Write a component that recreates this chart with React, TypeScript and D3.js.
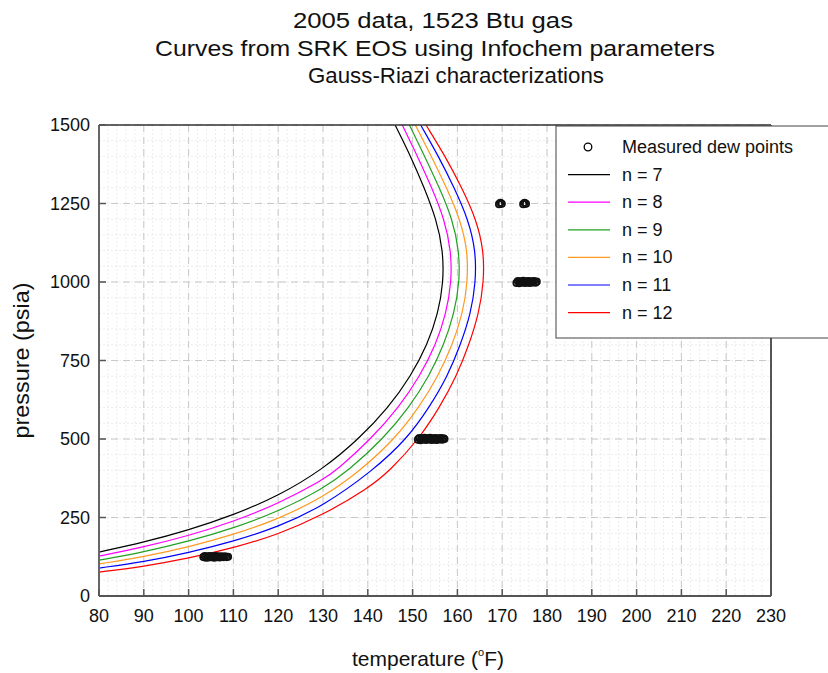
import React from "react";
import * as d3 from "d3";

const TITLE_LINES = [
  "2005 data, 1523 Btu gas",
  "Curves from SRK EOS using Infochem parameters",
  "Gauss-Riazi characterizations",
];
const X_TICKS = [80, 90, 100, 110, 120, 130, 140, 150, 160, 170, 180, 190, 200, 210, 220, 230];
const Y_TICKS = [0, 250, 500, 750, 1000, 1250, 1500];

const SERIES_NAMES = ["n = 7", "n = 8", "n = 9", "n = 10", "n = 11", "n = 12"];
const SERIES_COLORS = ["#000000", "#ff00ff", "#22a022", "#ff9a20", "#0000ff", "#ff0000"];

// [temperature °F, pressure psia]
const curveN7: [number, number][] = [[80,140],[90,171],[100,210],[110,258],[120,318],[130,404],[138.0,500],[144.6,600],[149.6,700],[153.3,800],[155.7,900],[156.9,1000],[156.8,1100],[155.3,1200],[152.6,1300],[149.6,1400],[146.1,1500]];
const curveN8: [number, number][] = [[80,127],[90,156],[100,192],[110,237],[120,294],[130,370],[133.0,400],[140.7,500],[146.9,600],[151.6,700],[155.2,800],[157.5,900],[158.7,1000],[158.6,1100],[157.1,1200],[154.3,1300],[151.1,1400],[147.7,1500]];
const curveN9: [number, number][] = [[80,114],[90,140],[100,174],[110,216],[120,269],[130,342],[135.7,400],[143.4,500],[149.2,600],[153.7,700],[157.0,800],[159.3,900],[160.5,1000],[160.4,1100],[158.9,1200],[156.0,1300],[152.7,1400],[149.3,1500]];
const curveN10: [number, number][] = [[80,102],[90,125],[100,156],[110,195],[120,245],[130,314],[138.4,400],[146.0,500],[151.4,600],[155.7,700],[158.9,800],[161.2,900],[162.3,1000],[162.3,1100],[160.6,1200],[157.6,1300],[154.2,1400],[150.6,1500]];
const curveN11: [number, number][] = [[80,89],[90,109],[100,138],[110,174],[120,220],[130,286],[141.2,400],[148.7,500],[153.7,600],[157.8,700],[160.7,800],[163.0,900],[164.1,1000],[164.1,1100],[162.4,1200],[159.3,1300],[155.8,1400],[151.8,1500]];
const curveN12: [number, number][] = [[80,76],[90,94],[100,120],[110,153],[120,196],[130,258],[140,342],[145.0,400],[151.4,500],[156.0,600],[159.8,700],[162.6,800],[164.8,900],[165.9,1000],[165.9,1100],[164.2,1200],[161.0,1300],[157.3,1400],[153.0,1500]];
const CURVES = [curveN7, curveN8, curveN9, curveN10, curveN11, curveN12];

// measured dew points [temperature °F, pressure psia]
const dewPoints125: [number, number][] = [[103.3,124],[103.6,127],[103.9,122],[104.2,126],[104.5,123],[104.8,127],[105.1,124],[105.4,126],[105.7,122],[106.0,127],[106.3,124],[106.6,126],[106.9,123],[107.3,126],[107.7,124],[108.1,126],[108.5,124],[108.8,125]];
const dewPoints500: [number, number][] = [[151.2,498],[151.5,503],[151.8,496],[152.1,502],[152.4,499],[152.7,504],[153.0,497],[153.3,502],[153.6,499],[153.9,504],[154.2,497],[154.5,502],[154.8,498],[155.1,503],[155.4,497],[155.7,502],[156.0,499],[156.3,503],[156.6,498],[156.9,502],[157.1,500]];
const dewPoints1000: [number, number][] = [[173.2,997],[173.5,1003],[173.8,996],[174.1,1002],[174.4,999],[174.7,1004],[175.0,997],[175.3,1002],[175.6,998],[175.9,1003],[176.2,997],[176.5,1002],[176.8,999],[177.1,1003],[177.4,998],[177.7,1001]];
const dewPoints1250: [number, number][] = [[169.3,1248],[169.6,1252],[169.9,1249],[174.7,1248],[175.0,1252],[175.3,1249]];
const DEW_POINTS = [...dewPoints125, ...dewPoints500, ...dewPoints1000, ...dewPoints1250];

const W = 828, H = 673;
const M = { left: 99, right: 771, top: 125, bottom: 596 };
const FONT = "'Liberation Sans', Arial, sans-serif";

export default function App() {
  const x = d3.scaleLinear().domain([80, 230]).range([M.left, M.right]);
  const y = d3.scaleLinear().domain([0, 1500]).range([M.bottom, M.top]);
  const minorX = x.ticks(75);
  const minorY = y.ticks(30);
  const line = d3
    .line<[number, number]>()
    .x((d) => x(d[0]))
    .y((d) => y(d[1]))
    .curve(d3.curveBasis);

  const legX = 556, legY = 126, legRow = 27.6, legFirst = 147;

  return (
    <svg width={W} height={H} style={{ position: "absolute", left: 0, top: 0, background: "#fff" }} fontFamily={FONT}>
      <defs>
        <clipPath id="plot">
          <rect x={M.left} y={M.top} width={M.right - M.left} height={M.bottom - M.top} />
        </clipPath>
      </defs>
      <rect x={0} y={0} width={W} height={H} fill="#fff" />
      {/* title */}
      <g fontSize={22} fill="#111" textAnchor="middle">
        <text x={433} y={28} textLength={280} lengthAdjust="spacingAndGlyphs">{TITLE_LINES[0]}</text>
        <text x={435} y={56} textLength={560} lengthAdjust="spacingAndGlyphs">{TITLE_LINES[1]}</text>
        <text x={456} y={83} textLength={296} lengthAdjust="spacingAndGlyphs">{TITLE_LINES[2]}</text>
      </g>

      {/* minor grid */}
      <g stroke="#ececec" strokeWidth={1} strokeDasharray="2,2">
        {minorX.map((t) => (
          <line key={"mx" + t} x1={x(t)} x2={x(t)} y1={M.top} y2={M.bottom} />
        ))}
        {minorY.map((t) => (
          <line key={"my" + t} y1={y(t)} y2={y(t)} x1={M.left} x2={M.right} />
        ))}
      </g>
      {/* major grid */}
      <g stroke="#c8c8c8" strokeWidth={1} strokeDasharray="7,5">
        {X_TICKS.map((t) => (
          <line key={"gx" + t} x1={x(t)} x2={x(t)} y1={M.top} y2={M.bottom} />
        ))}
        {Y_TICKS.map((t) => (
          <line key={"gy" + t} y1={y(t)} y2={y(t)} x1={M.left} x2={M.right} />
        ))}
      </g>

      {/* curves */}
      <g clipPath="url(#plot)" fill="none">
        {CURVES.map((c, i) => (
          <path key={i} d={line(c) || ""} stroke={SERIES_COLORS[i]} strokeWidth={1.2} />
        ))}
      </g>
      {/* measured points */}
      <g fill="none" stroke="#111" strokeWidth={1.8}>
        {DEW_POINTS.map((d, i) => (
          <circle key={i} cx={x(d[0])} cy={y(d[1])} r={3.2} />
        ))}
      </g>

      {/* frame */}
      <line x1={M.left} x2={M.right} y1={M.top} y2={M.top} stroke="#333" strokeWidth={1.5} />
      <line x1={M.right} x2={M.right} y1={M.top} y2={M.bottom} stroke="#555" strokeWidth={2} />
      <line x1={M.left} x2={M.left} y1={M.top} y2={M.bottom} stroke="#666" strokeWidth={2} />
      <line x1={M.left} x2={M.right} y1={M.bottom} y2={M.bottom} stroke="#555" strokeWidth={2} />

      {/* ticks */}
      <g stroke="#555" strokeWidth={1.5}>
        {X_TICKS.map((t) => (
          <line key={"tx" + t} x1={x(t)} x2={x(t)} y1={M.bottom} y2={M.bottom - 7} />
        ))}
        {Y_TICKS.map((t) => (
          <line key={"ty" + t} y1={y(t)} y2={y(t)} x1={M.left} x2={M.left + 7} />
        ))}
      </g>
      <g fontSize={18} fill="#111">
        {X_TICKS.map((t) => (
          <text key={"lx" + t} x={x(t)} y={622} textAnchor="middle">{t}</text>
        ))}
        {Y_TICKS.map((t) => (
          <text key={"ly" + t} x={90} y={y(t) + 6} textAnchor="end">{t}</text>
        ))}
      </g>

      {/* axis labels */}
      <text x={352} y={666} fontSize={21} fill="#111">
        temperature (<tspan fontSize={11} dy={-10}>o</tspan><tspan dy={10}>F)</tspan>
      </text>
      <text transform={`translate(29,${(M.top + M.bottom) / 2}) rotate(-90)`} fontSize={22} textAnchor="middle" fill="#111" textLength={156} lengthAdjust="spacingAndGlyphs">
        pressure (psia)
      </text>

      {/* legend */}
      <rect x={legX} y={legY} width={W - legX + 10} height={338 - legY} fill="#fff" stroke="#444" strokeWidth={1} />
      <circle cx={588} cy={legFirst} r={3.8} fill="none" stroke="#000" strokeWidth={1.3} />
      <text x={622} y={legFirst + 6} fontSize={18} fill="#111">Measured dew points</text>
      {SERIES_NAMES.map((n, i) => {
        const cy = legFirst + legRow * (i + 1);
        return (
          <g key={n}>
            <line x1={568} x2={610} y1={cy} y2={cy} stroke={SERIES_COLORS[i]} strokeWidth={1.2} />
            <text x={622} y={cy + 6} fontSize={18} fill="#111">{n}</text>
          </g>
        );
      })}
    </svg>
  );
}
